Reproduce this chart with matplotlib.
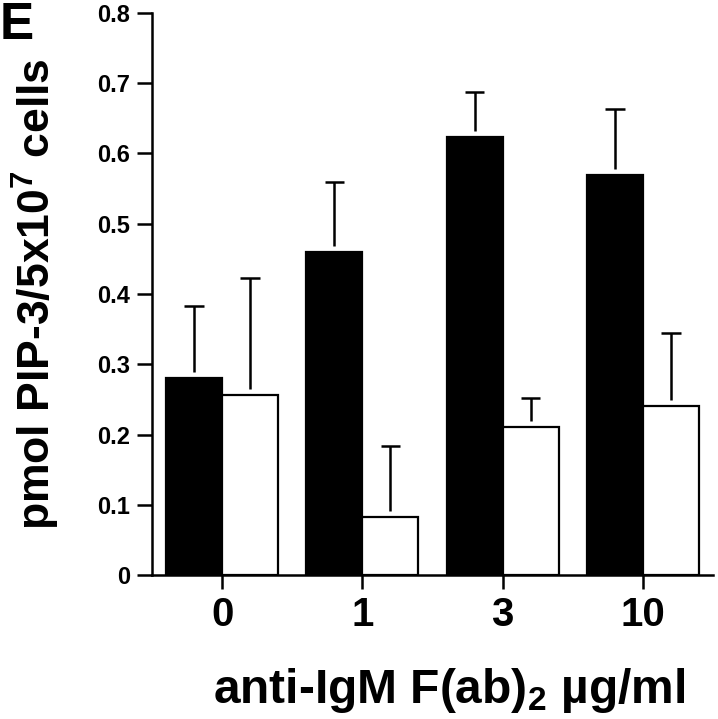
import numpy as np
import matplotlib
matplotlib.use('Agg')
import matplotlib.pyplot as plt

plt.rcParams['font.family'] = ['Liberation Sans', 'DejaVu Sans']
plt.rcParams['font.weight'] = 'bold'
plt.rcParams['mathtext.fontset'] = 'custom'
plt.rcParams['mathtext.rm'] = 'Liberation Sans'
plt.rcParams['mathtext.bf'] = 'Liberation Sans:bold'
plt.rcParams['mathtext.it'] = 'Liberation Sans:italic'

# data
doses = ['0', '1', '3', '10']
black_vals = [0.280, 0.460, 0.624, 0.569]
black_err = [0.103, 0.099, 0.063, 0.095]
white_vals = [0.256, 0.083, 0.211, 0.240]
white_err = [0.167, 0.101, 0.041, 0.104]

x = np.arange(len(doses))
w = 0.4
gap = 0.0085

fig = plt.figure(figsize=(7.18, 7.19), dpi=100)
ax = fig.add_axes([152/718, 1-575/719, (713-152)/718, (575-13)/719])

ax.bar(x - w/2, black_vals, width=w, color='black', edgecolor='black', linewidth=1.6, zorder=2)
ax.bar(x + w/2, white_vals, width=w, color='white', edgecolor='black', linewidth=1.6, zorder=2)

# upper error bars only, starting a little above the bar top
for xs, v, e in [(x - w/2, black_vals, black_err), (x + w/2, white_vals, white_err)]:
    v = np.array(v); e = np.array(e)
    ax.vlines(xs, v + gap, v + e, color='black', linewidth=1.8, zorder=3)
    ax.hlines(v + e, xs - 0.07, xs + 0.07, color='black', linewidth=1.8, zorder=3)

ax.set_xlim(-0.5, 3.5)
ax.set_ylim(0, 0.8)
ax.set_xticks(x)
ax.set_xticklabels(doses, fontsize=29, fontweight='bold')
yt = np.arange(0, 0.81, 0.1)
ax.set_yticks(yt)
ax.set_yticklabels(['0'] + ['%.1f' % t for t in yt[1:]], fontsize=17, fontweight='bold')
ax.tick_params(axis='x', direction='out', length=10, width=1.8, pad=5)
ax.tick_params(axis='y', direction='out', length=11, width=1.8, pad=5)

for s in ['top', 'right']:
    ax.spines[s].set_visible(False)
for s in ['left', 'bottom']:
    ax.spines[s].set_linewidth(1.8)

fig.text(36/718, 1-294/719, 'pmol PIP-3/5x10$^{\\mathbf{7}}$ cells', rotation=90,
         ha='center', va='center', fontsize=32, fontweight='bold')
fig.text(213/718, 1-703/719, 'anti-IgM F(ab)$_{2}$ µg/ml', ha='left', va='baseline',
         fontsize=34.5, fontweight='bold')
fig.text(0.0, 0.999, 'E', ha='left', va='top', fontsize=37, fontweight='bold')

fig.savefig('out.png', dpi=100)
